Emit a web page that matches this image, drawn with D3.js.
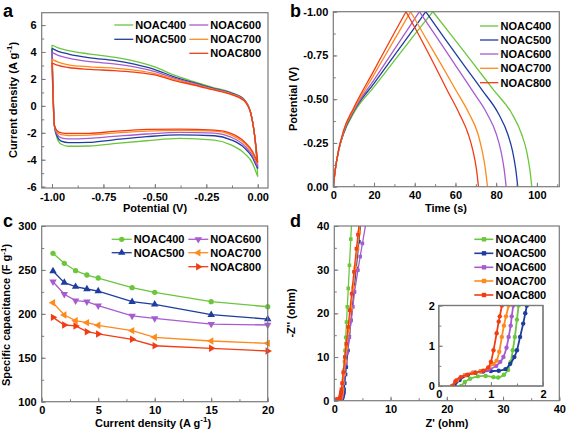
<!DOCTYPE html>
<html><head><meta charset="utf-8">
<script src="https://cdn.jsdelivr.net/npm/d3@7"></script>
<style>
body{margin:0;background:#fff}
text{font-family:"Liberation Sans",Arial,sans-serif;font-weight:bold}
</style>
</head><body>
<svg id="c" width="567" height="432"></svg>
<script>
// ---------- shared ----------
const seriesNames = ["NOAC400","NOAC500","NOAC600","NOAC700","NOAC800"];
const seriesColors = ["#6CC63C","#1E3D9E","#A65CD0","#FF8A1C","#F23C14"];

// ---------- panel a : CV ----------
const cvUpperPotential = [-1.0,-0.97,-0.92,-0.815,-0.7,-0.6,-0.5,-0.41,-0.31,-0.22,-0.13,-0.067,-0.034,-0.01,0];
const cvUpperCurrent = [
  [4.52,4.3,4.1,3.85,3.62,3.33,2.9,2.3,1.8,1.38,1.0,0.5,-0.5,-3.0,-5.25],
  [4.27,4.05,3.85,3.57,3.38,3.1,2.7,2.18,1.72,1.32,0.95,0.47,-0.52,-2.9,-4.65],
  [3.97,3.75,3.55,3.28,3.12,2.9,2.55,2.08,1.67,1.28,0.92,0.45,-0.52,-2.85,-4.5],
  [3.45,3.25,3.05,2.9,2.8,2.65,2.4,1.98,1.6,1.24,0.88,0.42,-0.53,-2.82,-4.3],
  [3.2,3.0,2.85,2.71,2.62,2.5,2.3,1.9,1.55,1.2,0.85,0.4,-0.55,-2.8,-4.2]
];
const cvLowerPotential = [-1.0,-0.988,-0.975,-0.955,-0.92,-0.82,-0.7,-0.54,-0.38,-0.21,-0.13,-0.065,-0.025,-0.005,0];
const cvLowerCurrent = [
  [4.52,-1.5,-2.4,-2.85,-3.0,-2.98,-2.8,-2.59,-2.41,-2.54,-2.9,-3.53,-4.27,-5.05,-5.25],
  [4.27,-1.5,-2.25,-2.62,-2.73,-2.71,-2.52,-2.29,-2.15,-2.22,-2.52,-3.12,-3.85,-4.5,-4.65],
  [3.97,-1.5,-2.1,-2.38,-2.45,-2.41,-2.27,-2.09,-1.97,-2.03,-2.32,-2.95,-3.7,-4.35,-4.5],
  [3.45,-1.45,-1.95,-2.14,-2.2,-2.17,-2.03,-1.87,-1.82,-1.88,-2.15,-2.78,-3.52,-4.15,-4.3],
  [3.2,-1.45,-1.85,-2.0,-2.05,-2.04,-1.9,-1.75,-1.72,-1.8,-2.04,-2.66,-3.4,-4.05,-4.2]
];

// ---------- panel b : GCD ----------
const gcdChargeTime = [
  [0,1,2.5,5,10,20,30,40,48.9],
  [0,1,2.5,5,10,20,30,40,45.4],
  [0,1,2.5,5,10,20,30,38,42.3],
  [0,1,2.5,5,10,20,30,38],
  [0,1,2.5,5,10,20,30,35.7]
];
const gcdChargeVoltage = [
  [0,-0.1,-0.2,-0.3,-0.42,-0.57,-0.72,-0.87,-1.0],
  [0,-0.1,-0.2,-0.305,-0.43,-0.59,-0.75,-0.91,-1.0],
  [0,-0.1,-0.2,-0.31,-0.435,-0.61,-0.785,-0.925,-1.0],
  [0,-0.1,-0.2,-0.315,-0.44,-0.64,-0.84,-1.0],
  [0,-0.1,-0.205,-0.32,-0.45,-0.665,-0.88,-1.0]
];
const gcdDischargeVoltage = [-1.0,-0.85,-0.7,-0.55,-0.42,-0.3,-0.2,-0.1,0];
const gcdDischargeTime = [
  [48.9,59.0,69.0,78.9,87.6,92.5,95.0,96.5,97.5],
  [45.4,54.5,63.8,73.2,81.0,85.7,88.1,89.6,90.6],
  [42.3,51.0,59.6,68.2,75.4,80.1,82.4,83.9,84.9],
  [38.0,45.4,52.9,60.3,66.6,71.1,73.2,74.7,75.7],
  [35.7,42.8,49.5,56.0,61.8,66.3,68.7,70.3,71.3]
];

// ---------- panel c : rate capability ----------
const rateCurrentDensity = [1,2,3,4,5,8,10,15,20];
const rateCapacitance = [
  [268.9,257.5,249.1,244.2,240.8,229.8,224.5,213.8,208.1],
  [248.8,235.5,230.9,228.3,226.0,213.8,210.9,199.0,194.1],
  [236.6,222.3,215.0,213.8,209.3,197.6,194.9,188.4,187.3],
  [212.7,198.7,192.2,190.0,187.0,180.9,173.3,169.1,166.5],
  [196.0,187.3,186.2,179.7,177.1,171.0,163.7,160.8,157.7]
];

// ---------- panel d : Nyquist ----------
const eisReal = [
  [0.43,0.5,0.6,0.75,0.9,1.05,1.14,1.25,1.33,1.38,1.42,1.46,1.5,1.53,1.59,1.65,1.73,1.81,1.91,2.03,2.17,2.31,2.48,2.69,2.93,3.13],
  [0.3,0.4,0.55,0.7,0.85,1.0,1.15,1.28,1.37,1.45,1.5,1.56,1.62,1.66,1.69,1.74,1.85,2.0,2.13,2.43,2.67,2.97,3.47,3.89,4.37,4.73],
  [0.25,0.35,0.5,0.65,0.8,0.95,1.1,1.18,1.24,1.3,1.34,1.38,1.4,1.43,1.5,1.62,1.8,2.05,2.3,2.65,3.0,3.3,3.6,4.2,4.6,5.0,5.6],
  [0.25,0.35,0.5,0.65,0.8,0.95,1.05,1.11,1.16,1.21,1.25,1.29,1.34,1.39,1.51,1.68,1.93,2.19,2.53,2.96,3.38,3.76,4.13,4.44,4.65],
  [0.27,0.32,0.42,0.55,0.7,0.85,0.95,1.0,1.05,1.11,1.15,1.17,1.21,1.26,1.38,1.58,1.87,2.12,2.45,2.76,3.08,3.49,3.93,4.2,4.45]
];
const eisImag = [
  [0,0.1,0.18,0.24,0.25,0.22,0.21,0.28,0.4,0.6,0.89,1.22,1.65,2.0,3.5,5,7,9,11.5,14.5,18,21.5,25.7,31,37,42],
  [0,0.15,0.27,0.33,0.36,0.37,0.38,0.42,0.55,0.72,0.89,1.22,1.55,1.81,2.0,2.6,4,6,7.7,11.5,14.6,18.4,24.9,30.3,36.4,41],
  [0,0.15,0.27,0.33,0.36,0.4,0.5,0.6,0.72,0.95,1.22,1.5,1.73,2.0,2.6,4,6,8.5,11,14.5,18.4,21.5,24.9,29.9,33,36,40.5],
  [0,0.15,0.27,0.33,0.37,0.45,0.55,0.63,0.85,1.22,1.5,1.73,2.0,2.6,4,6,9,12,16,21,26,30.5,34.8,38.5,41],
  [0,0.12,0.22,0.28,0.33,0.38,0.46,0.6,0.89,1.31,1.6,1.73,2.0,2.6,4,6.5,10,13,16.9,20.7,24.5,29.5,34.8,38,41]
];

// tick values
const aXTicks = [-1.0,-0.75,-0.5,-0.25,0], aYTicks = [-6,-4,-2,0,2,4,6];
const bXTicks = [0,20,40,60,80,100], bYTicks = [0,-0.25,-0.5,-0.75,-1.0];
const cXTicks = [0,5,10,15,20], cYTicks = [100,150,200,250,300];
const dXTicks = [0,10,20,30,40], dYTicks = [0,10,20,30,40];
const insetTicks = [0,1,2];

// ---------- helpers ----------
const svg = d3.select("#c");
const FRAME = "#7a7a7a";
const fmtDash = f => (d => f(d).replace("\u2212","-"));

function clipFor(id, x, y){
  const [x0,x1]=x.range(), [y0,y1]=y.range();
  svg.append("clipPath").attr("id",id).append("rect")
    .attr("x",x0).attr("y",y1).attr("width",x1-x0).attr("height",y0-y1);
  return `url(#${id})`;
}
function frame(g, x, y, fill){
  const [x0,x1]=x.range(), [y0,y1]=y.range();
  g.append("rect").attr("x",x0).attr("y",y1).attr("width",x1-x0).attr("height",y0-y1)
    .attr("fill",fill||"none").attr("stroke",FRAME).attr("stroke-width",1.2);
}
function styleAxis(sel){
  sel.select(".domain").remove();
  sel.attr("font-size",11).attr("font-family","'Liberation Sans',Arial,sans-serif").attr("font-weight","bold");
  sel.selectAll("line").attr("stroke",FRAME).attr("stroke-width",1);
  sel.selectAll("text").attr("fill","#000");
}
function axes(g, x, y, o){
  const yb=y.range()[0], xl=x.range()[0];
  g.append("g").attr("transform",`translate(0,${yb})`)
    .call(d3.axisBottom(x).tickValues(o.xminor).tickSize(-2.5).tickFormat("")).call(styleAxis);
  g.append("g").attr("transform",`translate(${xl},0)`)
    .call(d3.axisLeft(y).tickValues(o.yminor).tickSize(-2.5).tickFormat("")).call(styleAxis);
  g.append("g").attr("transform",`translate(0,${yb})`)
    .call(d3.axisBottom(x).tickValues(o.xt).tickSize(-4).tickPadding(o.xp||5).tickFormat(o.xf)).call(styleAxis);
  g.append("g").attr("transform",`translate(${xl},0)`)
    .call(d3.axisLeft(y).tickValues(o.yt).tickSize(-4).tickPadding(o.yp||5).tickFormat(o.yf)).call(styleAxis);
}
function xTitle(txt, x, y, sup, after){
  const t=svg.append("text").attr("x",x).attr("y",y).attr("text-anchor","middle").attr("font-size",11);
  t.append("tspan").text(txt);
  if(sup){ t.append("tspan").attr("dy",-4.5).attr("font-size",8).text(sup);
           t.append("tspan").attr("dy",4.5).text(after); }
}
function yTitle(txt, x, y, sup, after){
  const t=svg.append("text").attr("transform",`translate(${x},${y}) rotate(-90)`)
    .attr("text-anchor","middle").attr("font-size",11);
  t.append("tspan").text(txt);
  if(sup){ t.append("tspan").attr("dy",-4.5).attr("font-size",8).text(sup);
           t.append("tspan").attr("dy",4.5).text(after); }
}
function panelLetter(l,x,y){
  svg.append("text").attr("x",x).attr("y",y).attr("font-size",18).text(l);
}
function range(a,b,s){const r=[];for(let v=a;v<=b+1e-9;v+=s)r.push(+v.toFixed(4));return r;}

// ================= Panel a =================
{
  const x=d3.scaleLinear().domain([-1.05,0.05]).range([41.7,268]);
  const y=d3.scaleLinear().domain([-6.1,6.92]).range([188,12.7]);
  const g=svg.append("g");
  const clip=clipFor("clipA",x,y);
  const pg=g.append("g").attr("clip-path",clip);
  const line=d3.line().x(d=>x(d[0])).y(d=>y(d[1])).curve(d3.curveMonotoneX);
  seriesNames.forEach((s,i)=>{
    pg.append("path").attr("d",line(cvUpperPotential.map((p,j)=>[p,cvUpperCurrent[i][j]])))
      .attr("fill","none").attr("stroke",seriesColors[i]).attr("stroke-width",1.3);
    pg.append("path").attr("d",line(cvLowerPotential.map((p,j)=>[p,cvLowerCurrent[i][j]])))
      .attr("fill","none").attr("stroke",seriesColors[i]).attr("stroke-width",1.3);
  });
  frame(g,x,y);
  axes(g,x,y,{xt:aXTicks,xf:fmtDash(d3.format(".2f")),xminor:range(-1,0,0.125),
              yt:aYTicks,yf:fmtDash(d3.format("d")),yminor:range(-6,6,1),yp:5});
  const leg=[[0,114.3,25],[2,189.3,25],[1,114.3,39.3],[3,189.3,39.3],[4,189.3,53.3]];
  leg.forEach(([i,lx,ly])=>{
    g.append("line").attr("x1",lx).attr("x2",lx+19).attr("y1",ly).attr("y2",ly)
      .attr("stroke",seriesColors[i]).attr("stroke-width",1.3);
    g.append("text").attr("x",lx+21).attr("y",ly+4).attr("font-size",11).text(seriesNames[i]);
  });
  xTitle("Potential (V)",155,212);
  yTitle("Current density (A g",16.5,100,"-1",")");
  panelLetter("a",3,16.5);
}

// ================= Panel b =================
{
  const x=d3.scaleLinear().domain([0,111]).range([333.3,559.3]);
  const y=d3.scaleLinear().domain([0,-1]).range([186.7,11.7]);
  const g=svg.append("g");
  const clip=clipFor("clipB",x,y);
  const pg=g.append("g").attr("clip-path",clip);
  const line=d3.line().x(d=>x(d[0])).y(d=>y(d[1])).curve(d3.curveMonotoneX);
  seriesNames.forEach((s,i)=>{
    pg.append("path").attr("d",line(gcdChargeTime[i].map((t,j)=>[t,gcdChargeVoltage[i][j]])))
      .attr("fill","none").attr("stroke",seriesColors[i]).attr("stroke-width",1.3);
    pg.append("path").attr("d",line(gcdDischargeTime[i].map((t,j)=>[t,gcdDischargeVoltage[j]])))
      .attr("fill","none").attr("stroke",seriesColors[i]).attr("stroke-width",1.3);
  });
  frame(g,x,y);
  axes(g,x,y,{xt:bXTicks,xf:d3.format("d"),xminor:range(0,110,10),
              yt:bYTicks,yf:fmtDash(d3.format(".2f")),yminor:range(-1,0,0.125),yp:5});
  const rows=[26,40,54,68.3,82.7];
  seriesNames.forEach((s,i)=>{
    g.append("line").attr("x1",480).attr("x2",498.3).attr("y1",rows[i]).attr("y2",rows[i])
      .attr("stroke",seriesColors[i]).attr("stroke-width",1.3);
    g.append("text").attr("x",500.5).attr("y",rows[i]+4).attr("font-size",11).text(s);
  });
  xTitle("Time (s)",446,212);
  yTitle("Potential (V)",296.5,99);
  panelLetter("b",290,16.5);
}

// symbols for panel c
const symTri=d3.symbol().type(d3.symbolTriangle).size(24);
const symCirc=d3.symbol().type(d3.symbolCircle).size(22);
const markerRot=[null,0,180,-90,90];
function drawMarker(g,i,cx,cy){
  if(i===0) g.append("path").attr("d",symCirc()).attr("transform",`translate(${cx},${cy})`).attr("fill",seriesColors[i]);
  else g.append("path").attr("d",symTri()).attr("transform",`translate(${cx},${cy}) rotate(${markerRot[i]})`).attr("fill",seriesColors[i]);
}

// ================= Panel c =================
{
  const x=d3.scaleLinear().domain([0,20]).range([41.7,267.7]);
  const y=d3.scaleLinear().domain([100,300]).range([401.7,226]);
  const g=svg.append("g");
  const line=d3.line().x(d=>x(d[0])).y(d=>y(d[1]));
  seriesNames.forEach((s,i)=>{
    const pts=rateCurrentDensity.map((c,j)=>[c,rateCapacitance[i][j]]);
    g.append("path").attr("d",line(pts)).attr("fill","none").attr("stroke",seriesColors[i]).attr("stroke-width",1.3);
    pts.forEach(p=>drawMarker(g,i,x(p[0]),y(p[1])));
  });
  frame(g,x,y);
  axes(g,x,y,{xt:cXTicks,xf:d3.format("d"),xminor:range(0,20,2.5),
              yt:cYTicks,yf:d3.format("d"),yminor:range(100,300,25),yp:5});
  const leg=[[0,111.7,239.3],[2,188.3,239.3],[1,111.7,252.7],[3,188.3,252.7],[4,188.3,266.7]];
  leg.forEach(([i,lx,ly])=>{
    g.append("line").attr("x1",lx).attr("x2",lx+20).attr("y1",ly).attr("y2",ly)
      .attr("stroke",seriesColors[i]).attr("stroke-width",1.3);
    drawMarker(g,i,lx+10,ly);
    g.append("text").attr("x",lx+22).attr("y",ly+4).attr("font-size",11).text(seriesNames[i]);
  });
  xTitle("Current density (A g",153,426.5,"-1",")");
  yTitle("Specific capacitance (F g",10,315,"-1",")");
  panelLetter("c",3,227);
}

// ================= Panel d =================
{
  const x=d3.scaleLinear().domain([0,40]).range([334.3,559.3]);
  const y=d3.scaleLinear().domain([0,40]).range([400.7,226]);
  const g=svg.append("g");
  const clip=clipFor("clipD",x,y);
  const pg=g.append("g").attr("clip-path",clip);
  const line=d3.line().x(d=>x(d[0])).y(d=>y(d[1]));
  seriesNames.forEach((s,i)=>{
    const pts=eisReal[i].map((r,j)=>[r,eisImag[i][j]]);
    pg.append("path").attr("d",line(pts)).attr("fill","none").attr("stroke",seriesColors[i]).attr("stroke-width",1.3);
    pg.selectAll(null).data(pts).enter().append("rect")
      .attr("x",d=>x(d[0])-1.8).attr("y",d=>y(d[1])-1.8).attr("width",3.6).attr("height",3.6)
      .attr("fill",seriesColors[i]);
  });
  frame(g,x,y);
  axes(g,x,y,{xt:dXTicks,xf:d3.format("d"),xminor:range(0,40,5),
              yt:dYTicks,yf:d3.format("d"),yminor:range(0,40,5),yp:5});
  const rows=[239.3,253.3,267.3,281,295];
  seriesNames.forEach((s,i)=>{
    g.append("line").attr("x1",474.3).attr("x2",493.3).attr("y1",rows[i]).attr("y2",rows[i])
      .attr("stroke",seriesColors[i]).attr("stroke-width",1.6);
    g.append("rect").attr("x",481.8).attr("y",rows[i]-2.2).attr("width",4.4).attr("height",4.4).attr("fill",seriesColors[i]);
    g.append("text").attr("x",495.5).attr("y",rows[i]+4).attr("font-size",11).text(s);
  });
  // inset
  const xi=d3.scaleLinear().domain([0,2]).range([438.8,543]);
  const yi=d3.scaleLinear().domain([0,2]).range([386,305.5]);
  const ig=svg.append("g");
  frame(ig,xi,yi,"#fff");
  const iclip=clipFor("clipI",xi,yi);
  const ipg=ig.append("g").attr("clip-path",iclip);
  const iline=d3.line().x(d=>xi(d[0])).y(d=>yi(d[1])).curve(d3.curveCatmullRom);
  seriesNames.forEach((s,i)=>{
    const pts=eisReal[i].map((r,j)=>[r,eisImag[i][j]]);
    ipg.append("path").attr("d",iline(pts))
      .attr("fill","none").attr("stroke",seriesColors[i]).attr("stroke-width",1.8);
    ipg.selectAll(null).data(pts).enter().append("circle")
      .attr("cx",d=>xi(d[0])).attr("cy",d=>yi(d[1])).attr("r",2.2).attr("fill",seriesColors[i]);
  });
  frame(ig,xi,yi);
  axes(ig,xi,yi,{xt:insetTicks,xf:d3.format("d"),xminor:range(0,2,0.5),
                 yt:insetTicks,yf:d3.format("d"),yminor:range(0,2,0.5),xp:4,yp:4});
  xTitle("Z' (ohm)",447,426.5);
  yTitle("-Z'' (ohm)",295,313);
  panelLetter("d",290,227);
}
</script>
</body></html>
